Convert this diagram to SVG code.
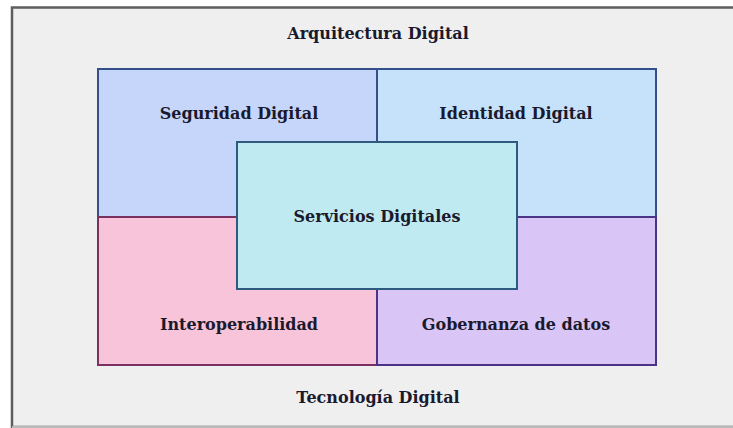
<svg xmlns="http://www.w3.org/2000/svg" width="733" height="428" viewBox="0 0 733 428">
<style>
text{font-family:"DejaVu Serif","Liberation Serif",serif;font-weight:700;font-size:16px;text-anchor:middle;fill:#1a1a2e}
.q{stroke-width:2}
</style>
<rect x="0" y="0" width="733" height="428" fill="#ffffff"/>
<g id="frame">
<rect x="12" y="7.5" width="740" height="419.5" fill="#efefef" stroke="#5e5e5e" stroke-width="2.5"/>
<line x1="12" y1="427" x2="733" y2="427" stroke="#d8d8d8" stroke-width="1.5"/>
<text x="378" y="39">Arquitectura Digital</text>
<text x="378" y="403">Tecnología Digital</text>
</g>
<g id="seguridad">
<rect class="q" x="98" y="69" width="279" height="148" fill="#c6d6fa" stroke="#34508a"/>
<text x="239" y="119">Seguridad Digital</text>
</g>
<g id="identidad">
<rect class="q" x="377" y="69" width="279" height="148" fill="#c6e2fa" stroke="#34508a"/>
<text x="516" y="119">Identidad Digital</text>
</g>
<g id="interoperabilidad">
<rect class="q" x="98" y="217" width="279" height="148" fill="#f8c4d9" stroke="#7a3060"/>
<text x="239" y="330" fill="#3a0f22">Interoperabilidad</text>
</g>
<g id="gobernanza">
<rect class="q" x="377" y="217" width="279" height="148" fill="#d9c6f7" stroke="#4a3488"/>
<text x="516" y="330" fill="#1e0f3a">Gobernanza de datos</text>
</g>
<g id="servicios">
<rect class="q" x="237" y="142" width="280" height="147" fill="#c0eaf1" stroke="#2e5a80"/>
<text x="377" y="222">Servicios Digitales</text>
</g>
<g id="connectors"></g>
</svg>
